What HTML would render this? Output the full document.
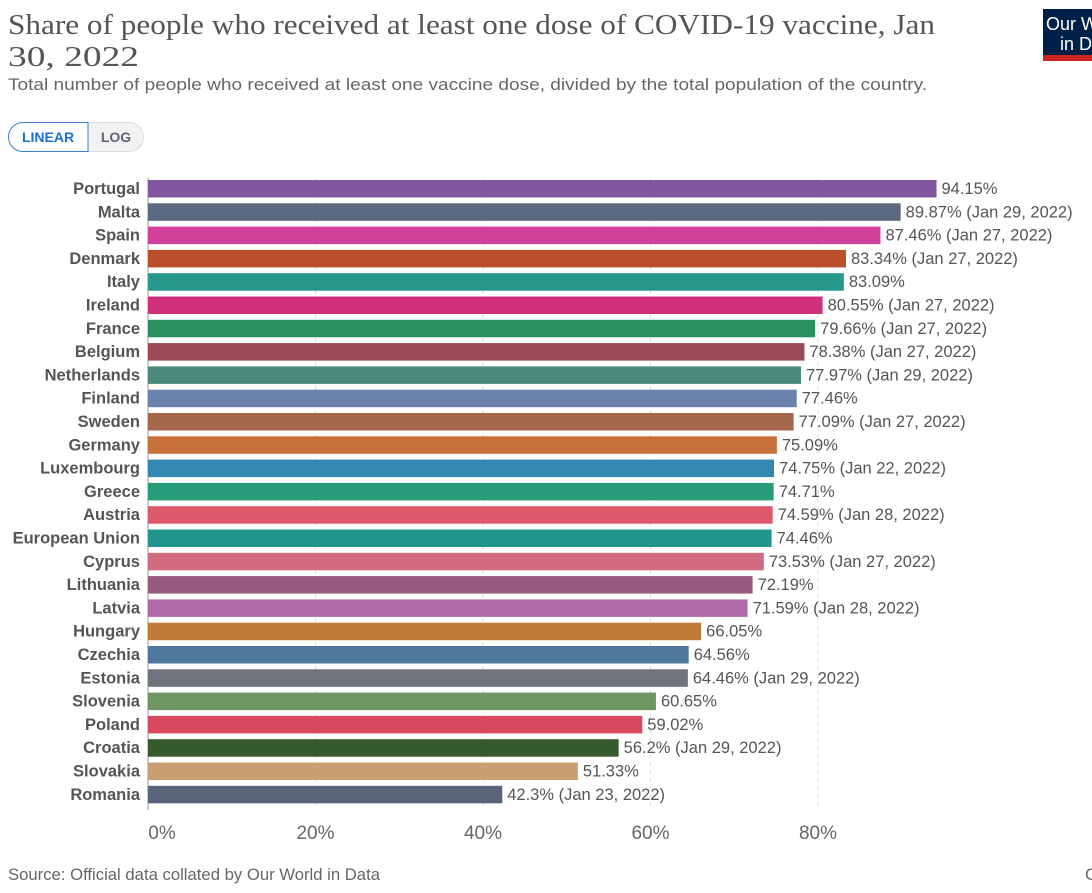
<!DOCTYPE html>
<html><head><meta charset="utf-8"><style>
body{margin:0;background:#fff;width:1092px;height:888px;overflow:hidden;font-family:"Liberation Sans",sans-serif}
</style></head><body>
<svg width="1092" height="888" xmlns="http://www.w3.org/2000/svg" font-family="Liberation Sans, sans-serif">
<text x="8" y="34" font-family="Liberation Serif, serif" font-size="29" fill="#555" textLength="927" lengthAdjust="spacingAndGlyphs">Share of people who received at least one dose of COVID-19 vaccine, Jan</text>
<text x="8" y="66" font-family="Liberation Serif, serif" font-size="29" fill="#555" textLength="131" lengthAdjust="spacingAndGlyphs">30, 2022</text>
<text x="8" y="90" font-size="17" fill="#666" textLength="919" lengthAdjust="spacingAndGlyphs">Total number of people who received at least one vaccine dose, divided by the total population of the country.</text>
<rect x="1043" y="9" width="60" height="46" fill="#002147"/>
<rect x="1043" y="55" width="60" height="6" fill="#ce261e"/>
<text x="1046" y="30" font-size="18" fill="#fff">Our W</text>
<text x="1060" y="50" font-size="18" fill="#fff">in D</text>
<rect x="8.5" y="122.5" width="135" height="29" rx="14.5" fill="#f2f2f2" stroke="#ddd"/>
<path d="M23 122.5 H88 V151.5 H23 A14.5 14.5 0 0 1 23 122.5Z" fill="#fff" stroke="#3c7fd4"/>
<text x="48" y="142" font-size="14" font-weight="bold" fill="#1a6fd4" text-anchor="middle">LINEAR</text>
<text x="116" y="142" font-size="14" font-weight="bold" fill="#5b6470" text-anchor="middle">LOG</text>
<g stroke="#ddd" stroke-dasharray="4,4">
<line x1="315.5" y1="178" x2="315.5" y2="810"/><line x1="483" y1="178" x2="483" y2="810"/><line x1="650.5" y1="178" x2="650.5" y2="810"/><line x1="818" y1="178" x2="818" y2="810"/>
</g>
<line x1="148" y1="178" x2="148" y2="810" stroke="#999"/>
<g font-size="19" fill="#666" text-anchor="middle">
<text x="162" y="839">0%</text><text x="315.5" y="839">20%</text><text x="483" y="839">40%</text><text x="650.5" y="839">60%</text><text x="818" y="839">80%</text>
</g>
<text x="8" y="880" font-size="17" fill="#666" textLength="372" lengthAdjust="spacingAndGlyphs">Source: Official data collated by Our World in Data</text>
<text x="1085" y="880" font-size="17" fill="#666">C</text>
<g id="bars" font-size="16.5"></g>
</svg>
<script>
var d=[["Portugal",94.15,"","#80579f"],["Malta",89.87,"Jan 29, 2022","#5b6a80"],["Spain",87.46,"Jan 27, 2022","#d1419c"],["Denmark",83.34,"Jan 27, 2022","#bc4f2b"],["Italy",83.09,"","#26988c"],["Ireland",80.55,"Jan 27, 2022","#d0317a"],["France",79.66,"Jan 27, 2022","#299160"],["Belgium",78.38,"Jan 27, 2022","#9a4b55"],["Netherlands",77.97,"Jan 29, 2022","#4a8a7b"],["Finland",77.46,"","#6b81ae"],["Sweden",77.09,"Jan 27, 2022","#a6684a"],["Germany",75.09,"","#c8723b"],["Luxembourg",74.75,"Jan 22, 2022","#3487b0"],["Greece",74.71,"","#279c78"],["Austria",74.59,"Jan 28, 2022","#dc5a6c"],["European Union",74.46,"","#22958c"],["Cyprus",73.53,"Jan 27, 2022","#d06b80"],["Lithuania",72.19,"","#965a7f"],["Latvia",71.59,"Jan 28, 2022","#b16aa8"],["Hungary",66.05,"","#bf7a38"],["Czechia",64.56,"","#4f779b"],["Estonia",64.46,"Jan 29, 2022","#6e737c"],["Slovenia",60.65,"","#6f9662"],["Poland",59.02,"","#d9485e"],["Croatia",56.2,"Jan 29, 2022","#37592f"],["Slovakia",51.33,"","#c9a074"],["Romania",42.3,"Jan 23, 2022","#576479"]];
var g=document.getElementById("bars"),h="";
d.forEach(function(r,i){var y=180+i*23.3,w=r[1]*8.375;
h+='<rect x="148" y="'+y+'" width="'+w+'" height="17.5" fill="'+r[3]+'"/>';
h+='<text x="140" y="'+(y+14)+'" text-anchor="end" font-weight="bold" fill="#555">'+r[0]+'</text>';
h+='<text x="'+(153+w)+'" y="'+(y+14)+'" fill="#555">'+r[1]+'%'+(r[2]?' ('+r[2]+')':'')+'</text>';});
g.innerHTML=h;
</script>
</body></html>
